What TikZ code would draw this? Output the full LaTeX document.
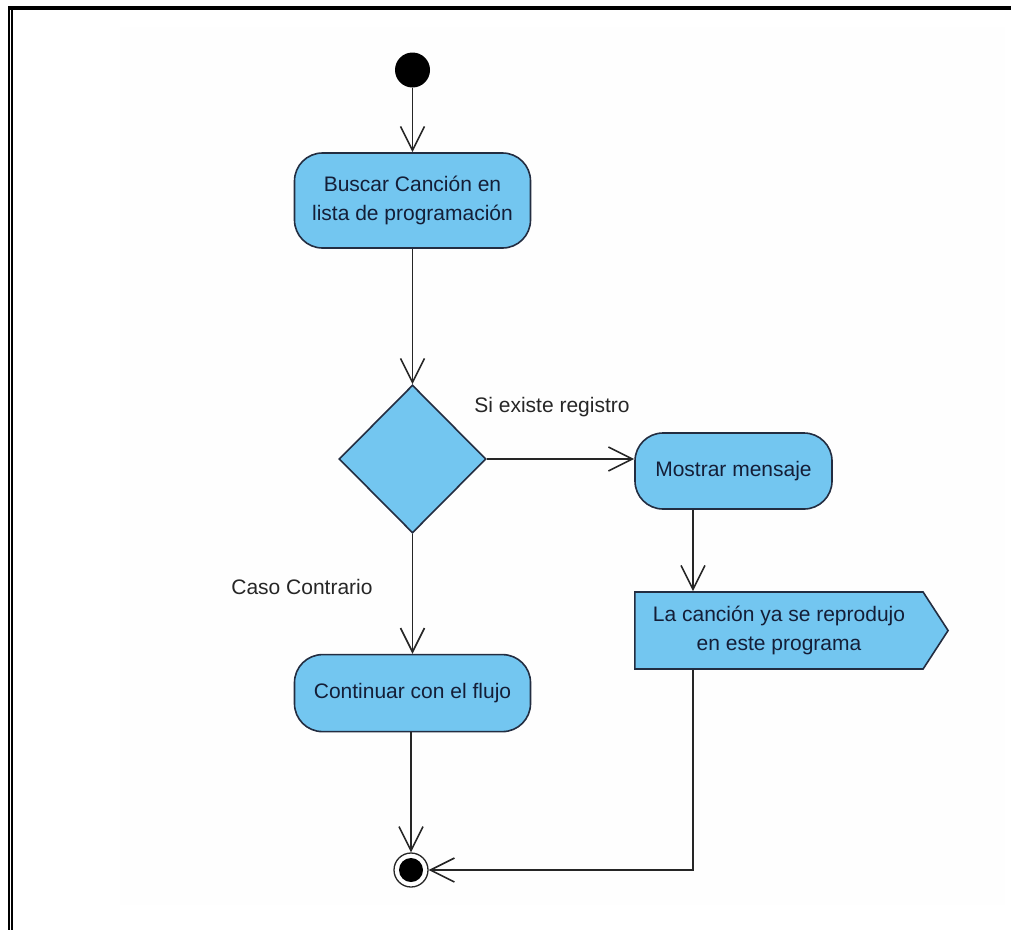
\documentclass[tikz,border=0pt]{standalone}
\usepackage{fontspec}
\setmainfont{Liberation Sans}
\usepackage{tikz}
\usetikzlibrary{shapes.geometric,shapes.symbols,arrows.meta}
\usetikzlibrary{positioning}
\definecolor{celeste}{RGB}{115,198,240}
\definecolor{borde}{RGB}{35,45,65}
\definecolor{tinta}{RGB}{20,30,55}
\definecolor{fondo}{RGB}{254,254,254}

\begin{document}
\begin{tikzpicture}[x=1pt, y=-1pt, line width=1.6pt, draw=black!85,
		>={Straight Barb[length=24pt,width=24pt]},
		accion/.style={draw=borde, fill=celeste, rectangle, rounded corners=28pt,
			text=tinta, align=center, minimum width=236pt, minimum height=77pt},
		etiqueta/.style={text=black!85}]
			\useasboundingbox (0,0) rectangle (1011,930);
			\fill[fondo] (120,27) rectangle (1005,905);
			% marco
			\draw[line width=4pt, black] (8,8) -- (1011,8);
			\draw[line width=2.3pt, black] (9.2,6) -- (9.2,930);
			\draw[line width=1.3pt, black] (12,10) -- (12,930);
			\fontsize{21}{28.5}\selectfont
			\node[circle, fill=black, minimum size=35pt, inner sep=0pt] (Inicio) at (412.5,70) {};
			\node[accion, minimum height=95pt] (Buscar) at (412.5,200.5) {Buscar Canción en\\lista de programación};
			\node[draw=borde, fill=celeste, diamond, minimum width=147pt, minimum height=148pt, inner sep=0pt] (Decision) at (412.5,459) {};
			\node[accion, minimum width=197pt, minimum height=76pt] (Mostrar) at (733.5,471) {Mostrar mensaje};
			\node[draw=borde, fill=celeste, signal, signal to=east, signal pointer angle=114,
				text=tinta, align=center, inner xsep=18pt, minimum height=77pt] (Aviso) at (779,630.5)
				{La canción ya se reprodujo\\en este programa};
			\node[accion, below=120pt of Decision] (Continuar) {Continuar con el flujo};
			\node[circle, draw, line width=1.3pt, minimum size=34pt, inner sep=0pt,
				path picture={\fill (path picture bounding box.center) circle (12pt);}] (Fin) at (411,870) {};
			\node[etiqueta] (SiExiste) at (552,407) {Si existe registro};
			\node[etiqueta] (CasoContrario) at (302,587) {Caso Contrario};
			\coordinate (Baja) at (693,870);
			\draw[->] (Inicio) -- (Buscar);
			\draw[->] (Buscar) -- (Decision);
			\draw[->] (Decision.east) -- (Decision.east -| Mostrar.west);
			\draw[->] (Decision) -- (Continuar);
			\draw[->] (Mostrar.south -| Baja) -- (Aviso.north -| Baja);
			\draw[->] (Aviso.south -| Baja) -- (Baja) -- (Fin);
			\draw[->] (Continuar.south -| Fin) -- (Fin);
		\end{tikzpicture}
\end{document}
